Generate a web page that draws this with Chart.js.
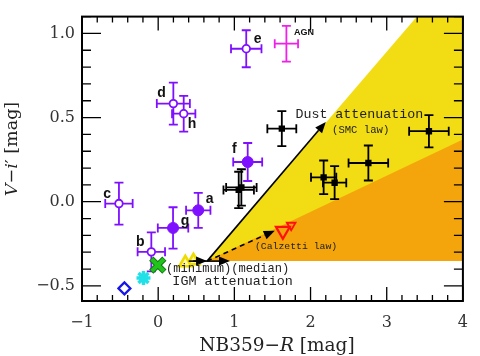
<!DOCTYPE html>
<html><head><meta charset="utf-8">
<script src="https://cdn.jsdelivr.net/npm/chart.js@4"></script>
<style>html,body{margin:0;padding:0;background:#fff}#wrap{width:480px;height:356px}</style>
</head><body><div id="wrap"><canvas id="c" width="480" height="356"></canvas></div>
<script>
// ---------------- DATA ----------------
const xTickValues = [-1, 0, 1, 2, 3, 4];
const yTickValues = [-0.5, 0.0, 0.5, 1.0];

// open purple circles
const openLabels = ['b', 'c', 'd', 'e', 'h'];
const openX = [-0.09, -0.515, 0.199, 1.156, 0.335];
const openY = [-0.298, -0.011, 0.583, 0.909, 0.523];
const openXErr = [0.18, 0.18, 0.217, 0.20, 0.153];
const openYErr = [0.116, 0.125, 0.125, 0.11, 0.106];

// filled purple circles
const filledLabels = ['a', 'f', 'g'];
const filledX = [0.526, 1.175, 0.195];
const filledY = [-0.051, 0.236, -0.156];
const filledXErr = [0.16, 0.19, 0.20];
const filledYErr = [0.104, 0.113, 0.123];

// AGN
const agnX = [1.683];
const agnY = [0.939];
const agnXErr = [0.153];
const agnYErr = [0.106];

// black squares
const blackX = [1.623, 3.554, 2.759, 2.172, 2.316, 1.092, 1.057];
const blackY = [0.434, 0.419, 0.230, 0.145, 0.113, 0.085, 0.070];
const blackXErr = [0.19, 0.26, 0.26, 0.166, 0.153, 0.20, 0.20];
const blackYErr = [0.104, 0.096, 0.104, 0.10, 0.098, 0.108, 0.108];

// single reference markers
const greenX = [-0.005], greenY = [-0.377];
const cyanX = [-0.193], cyanY = [-0.453];
const blueX = [-0.443], blueY = [-0.515];
const yellowTriX = [0.463, 0.356], yellowTriY = [-0.351, -0.363];
const redBigX = [1.637], redBigY = [-0.173];
const redSmallX = [1.746], redSmallY = [-0.140];

// shaded regions (polygon vertices in data units)
const yellowRegionX = [0.642, 3.397, 4.0, 4.0];
const yellowRegionY = [-0.353, 1.10, 1.10, -0.353];
const orangeRegionX = [0.642, 4.0, 4.0];
const orangeRegionY = [-0.353, 0.37, -0.353];

// arrows [x0, y0, x1, y1]
const smcArrow = [0.642, -0.353, 2.20, 0.474];
const calzettiArrow = [0.642, -0.353, 1.53, -0.172];
const igmMinArrow = [0.40, -0.353, 0.642, -0.353];
const igmMedArrow = [0.46, -0.353, 0.943, -0.353];

// ---------------- HELPERS ----------------
const pts = (xs, ys) => xs.map((x, i) => ({x: x, y: ys[i]}));
const PURPLE = '#7f10ff';

function px(c, x, y) { return [c.scales.x.getPixelForValue(x), c.scales.y.getPixelForValue(y)]; }

function arrow(ctx, c, a, dashed) {
  const [x0, y0] = px(c, a[0], a[1]);
  const [x1, y1] = px(c, a[2], a[3]);
  const ang = Math.atan2(y1 - y0, x1 - x0);
  const L = 11, W = 4.5;
  const bx = x1 - L * Math.cos(ang), by = y1 - L * Math.sin(ang);
  ctx.save();
  ctx.strokeStyle = '#000'; ctx.fillStyle = '#000'; ctx.lineWidth = 1.6;
  if (dashed) ctx.setLineDash([5, 4]);
  ctx.beginPath(); ctx.moveTo(x0, y0); ctx.lineTo(bx, by); ctx.stroke();
  ctx.setLineDash([]);
  ctx.beginPath();
  ctx.moveTo(x1, y1);
  ctx.lineTo(bx + W * Math.sin(ang), by - W * Math.cos(ang));
  ctx.lineTo(bx - W * Math.sin(ang), by + W * Math.cos(ang));
  ctx.closePath(); ctx.fill();
  ctx.restore();
}

function poly(ctx, c, xs, ys, color) {
  ctx.beginPath();
  xs.forEach((x, i) => { const [X, Y] = px(c, x, ys[i]); if (i) ctx.lineTo(X, Y); else ctx.moveTo(X, Y); });
  ctx.closePath(); ctx.fillStyle = color; ctx.fill();
}

function richText(ctx, parts, cx, cy, size) {
  const fonts = parts.map(p => (p[1] ? 'italic ' : '') + size + 'px "DejaVu Serif"');
  let w = 0; parts.forEach((p, i) => { ctx.font = fonts[i]; w += ctx.measureText(p[0]).width; });
  let x = cx - w / 2;
  ctx.textBaseline = 'middle'; ctx.textAlign = 'left';
  parts.forEach((p, i) => { ctx.font = fonts[i]; ctx.fillText(p[0], x, cy); x += ctx.measureText(p[0]).width; });
}

const decor = {
  id: 'decor',
  beforeDatasetsDraw(c) {
    const ctx = c.ctx, a = c.chartArea;
    ctx.save();
    ctx.beginPath(); ctx.rect(a.left, a.top, a.right - a.left, a.bottom - a.top); ctx.clip();
    poly(ctx, c, yellowRegionX, yellowRegionY, '#f2dc14');
    poly(ctx, c, orangeRegionX, orangeRegionY, '#f4a50c');
    ctx.restore();
    // error bars
    c.data.datasets.forEach(ds => {
      if (!ds.errX) return;
      ctx.save();
      ctx.strokeStyle = ds.errColor; ctx.lineWidth = 1.8;
      ds.data.forEach((p, i) => {
        const [X, Y] = px(c, p.x, p.y);
        const [xl] = px(c, p.x - ds.errX[i], p.y);
        const [xr] = px(c, p.x + ds.errX[i], p.y);
        const [, yt] = px(c, p.x, p.y + ds.errY[i]);
        const [, yb] = px(c, p.x, p.y - ds.errY[i]);
        const cap = 4.5;
        ctx.beginPath();
        ctx.moveTo(xl, Y); ctx.lineTo(xr, Y);
        ctx.moveTo(X, yt); ctx.lineTo(X, yb);
        ctx.moveTo(xl, Y - cap); ctx.lineTo(xl, Y + cap);
        ctx.moveTo(xr, Y - cap); ctx.lineTo(xr, Y + cap);
        ctx.moveTo(X - cap, yt); ctx.lineTo(X + cap, yt);
        ctx.moveTo(X - cap, yb); ctx.lineTo(X + cap, yb);
        ctx.stroke();
      });
      ctx.restore();
    });
  },
  afterDatasetsDraw(c) {
    const ctx = c.ctx;
    arrow(ctx, c, smcArrow, false);
    arrow(ctx, c, calzettiArrow, true);
    arrow(ctx, c, igmMedArrow, false);
    arrow(ctx, c, igmMinArrow, false);

    // annotation texts
    ctx.save();
    ctx.fillStyle = '#222'; ctx.textAlign = 'left'; ctx.textBaseline = 'alphabetic';
    const T = (t, x, y, size) => { const [X, Y] = px(c, x, y); ctx.font = size + 'px "Liberation Mono"'; ctx.fillText(t, X, Y); };
    T('Dust attenuation', 1.802, 0.499, 13.3);
    T('(SMC law)', 2.282, 0.411, 10.6);
    T('(Calzetti law)', 1.270, -0.282, 9.8);
    T('(minimum)(median)', 0.101, -0.415, 12.1);
    T('IGM attenuation', 0.186, -0.497, 13.4);

    // galaxy letters
    ctx.fillStyle = '#111'; ctx.textAlign = 'center'; ctx.textBaseline = 'middle';
    ctx.font = 'bold 14px "Liberation Sans"';
    const offOpen = [[-11, -10], [-11.7, -9.7], [-11.7, -10.4], [11.3, -10], [8.3, 10.7]];
    const offFilled = [[11.3, -10.7], [-13.3, -13.3], [12, -6.6]];
    openLabels.forEach((l, i) => { const [X, Y] = px(c, openX[i], openY[i]); ctx.fillText(l, X + offOpen[i][0], Y + offOpen[i][1]); });
    filledLabels.forEach((l, i) => { const [X, Y] = px(c, filledX[i], filledY[i]); ctx.fillText(l, X + offFilled[i][0], Y + offFilled[i][1]); });
    ctx.font = 'bold 9px "Liberation Sans"';
    { const [X, Y] = px(c, agnX[0], agnY[0]); ctx.fillText('AGN', X + 17.7, Y - 10.7); }
    ctx.restore();
  },
  afterDraw(c) {
    const ctx = c.ctx, a = c.chartArea;
    ctx.save();
    ctx.strokeStyle = '#000';
    ctx.lineWidth = 1.3;
    ctx.beginPath();
    for (let i = -5; i <= 20; i++) {
      const v = i / 5; const X = c.scales.x.getPixelForValue(v);
      const len = (i % 5 === 0) ? 14 : 6;
      ctx.moveTo(X, a.bottom); ctx.lineTo(X, a.bottom - len);
      ctx.moveTo(X, a.top); ctx.lineTo(X, a.top + len);
    }
    for (let i = -5; i <= 11; i++) {
      const v = i / 10; const Y = c.scales.y.getPixelForValue(v);
      const len = (i % 5 === 0) ? 19 : 9;
      ctx.moveTo(a.left, Y); ctx.lineTo(a.left + len, Y);
      ctx.moveTo(a.right, Y); ctx.lineTo(a.right - len, Y);
    }
    ctx.stroke();
    ctx.lineWidth = 2;
    ctx.strokeRect(a.left, a.top, a.right - a.left, a.bottom - a.top);
    // axis titles
    ctx.fillStyle = '#222';
    richText(ctx, [['NB359\u2212', false], ['R', true], [' [mag]', false]], 277, 346, 18.5);
    ctx.translate(12, 149);
    ctx.rotate(-Math.PI / 2);
    richText(ctx, [['V', true], ['\u2212', false], ['i', true], ['\u2032 [mag]', false]], 0, 0, 17.5);
    ctx.restore();
  }
};

const tickFont = {family: '"DejaVu Serif"', size: 16};
new Chart(document.getElementById('c'), {
  type: 'scatter',
  data: {
    datasets: [
      {label: 'IGM min/median', data: pts(yellowTriX, yellowTriY), pointStyle: 'triangle', radius: 7, backgroundColor: '#fff7a0', borderColor: '#eedc00', borderWidth: 2.6},
      {label: 'Calzetti big', data: pts(redBigX, redBigY), pointStyle: 'triangle', rotation: 180, radius: 8, backgroundColor: 'rgba(0,0,0,0)', borderColor: '#ff1010', borderWidth: 2.2},
      {label: 'Calzetti small', data: pts(redSmallX, redSmallY), pointStyle: 'triangle', rotation: 180, radius: 5, backgroundColor: 'rgba(0,0,0,0)', borderColor: '#ff1010', borderWidth: 1.8},
      {label: 'green', data: pts(greenX, greenY), pointStyle: 'crossRot', radius: 8.5, borderColor: '#22c41c', borderWidth: 4},
      {label: 'green outline', data: pts(greenX, greenY), pointStyle: 'crossRot', radius: 9.3, borderColor: '#0f7a10', borderWidth: 6},
      {label: 'cyan', data: pts(cyanX, cyanY), pointStyle: 'star', radius: 7, borderColor: '#22e0e8', borderWidth: 3.5},
      {label: 'blue', data: pts(blueX, blueY), pointStyle: 'rectRot', radius: 6, backgroundColor: '#fff', borderColor: '#1616e8', borderWidth: 2.2},
      {label: 'filled', data: pts(filledX, filledY), pointStyle: 'circle', radius: 5.5, backgroundColor: PURPLE, borderColor: PURPLE, borderWidth: 1, errX: filledXErr, errY: filledYErr, errColor: PURPLE},
      {label: 'open', data: pts(openX, openY), pointStyle: 'circle', radius: 3.8, backgroundColor: '#fff', borderColor: PURPLE, borderWidth: 1.8, errX: openXErr, errY: openYErr, errColor: PURPLE},
      {label: 'AGN', data: pts(agnX, agnY), pointStyle: false, radius: 0, errX: agnXErr, errY: agnYErr, errColor: '#f020e8'},
      {label: 'black', data: pts(blackX, blackY), pointStyle: 'rect', radius: 4.5, backgroundColor: '#000', borderColor: '#000', borderWidth: 0, errX: blackXErr, errY: blackYErr, errColor: '#000'}
    ]
  },
  options: {
    responsive: false, animation: false, devicePixelRatio: 1,
    layout: {padding: {top: 3, right: 6, left: 0, bottom: 0}},
    plugins: {legend: {display: false}, tooltip: {enabled: false}},
    scales: {
      x: {type: 'linear', min: -1, max: 4,
          grid: {display: false, drawTicks: false}, border: {display: false},
          afterBuildTicks: s => { s.ticks = xTickValues.map(v => ({value: v})); },
          afterFit: s => { s.height = 55; },
          ticks: {padding: 12, font: tickFont, color: '#333', maxRotation: 0,
                  callback: v => (v < 0 ? '\u2212' : '') + Math.abs(v).toFixed(0)}},
      y: {type: 'linear', min: -0.59, max: 1.1,
          grid: {display: false, drawTicks: false}, border: {display: false},
          afterBuildTicks: s => { s.ticks = yTickValues.map(v => ({value: v})); },
          afterFit: s => { s.width = 82; },
          ticks: {padding: 7, font: tickFont, color: '#333',
                  callback: v => (v < -1e-9 ? '\u2212' : '') + Math.abs(v).toFixed(1)}}
    }
  },
  plugins: [decor]
});
</script></body></html>
